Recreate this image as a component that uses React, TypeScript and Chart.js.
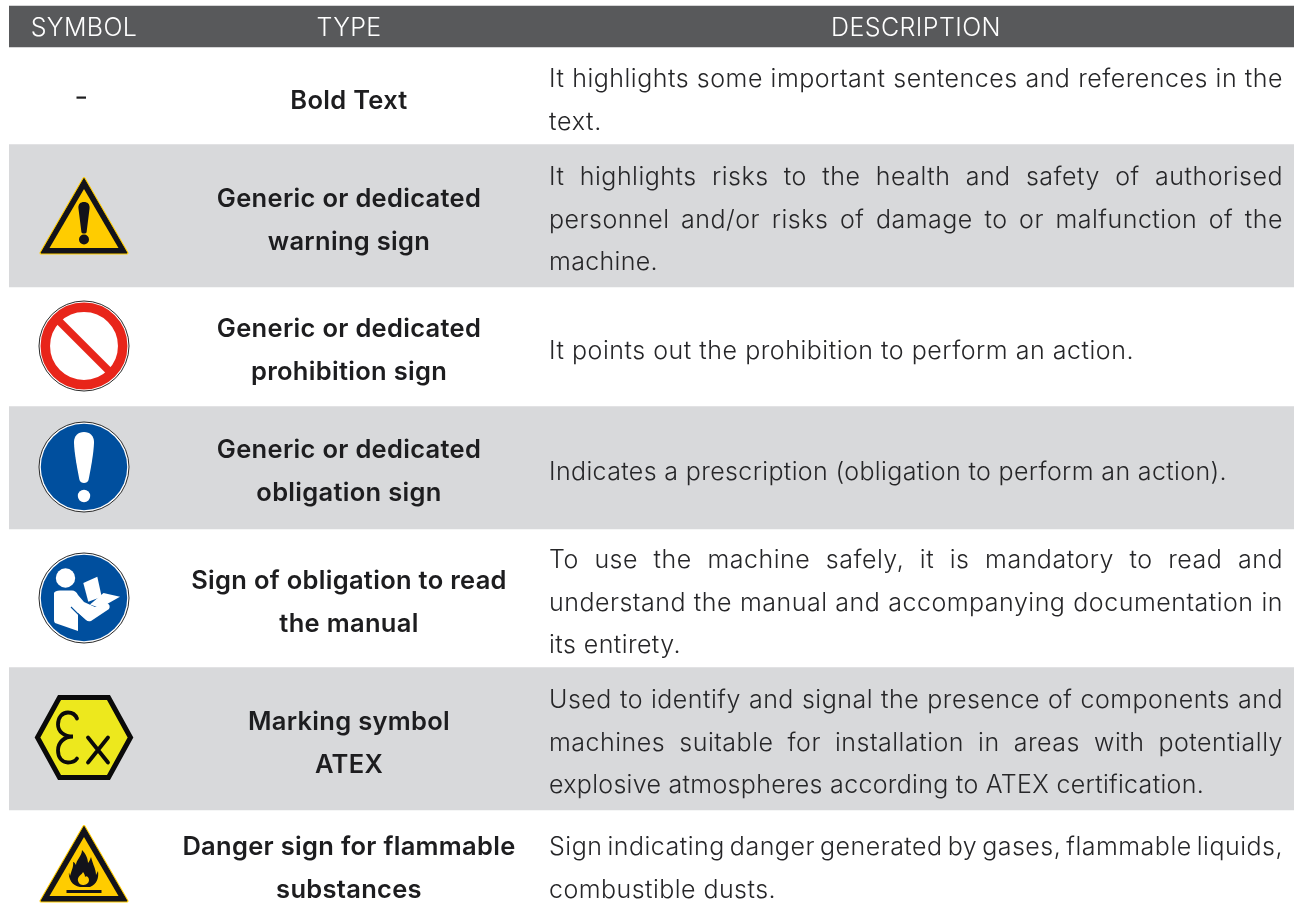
import React, { useEffect, useRef } from "react";
import { Chart, registerables } from "chart.js";

Chart.register(...registerables);

const headers = ["SYMBOL", "TYPE", "DESCRIPTION"];
const rowTypes = [
  ["Bold Text"],
  ["Generic or dedicated", "warning sign"],
  ["Generic or dedicated", "prohibition sign"],
  ["Generic or dedicated", "obligation sign"],
  ["Sign of obligation to read", "the manual"],
  ["Marking symbol", "ATEX"],
  ["Danger sign for flammable", "substances"],
];
const rowDescriptions = [
  ["It highlights some important sentences and references in the", "text."],
  ["It highlights risks to the health and safety of authorised", "personnel and/or risks of damage to or malfunction of the", "machine."],
  ["It points out the prohibition to perform an action."],
  ["Indicates a prescription (obligation to perform an action)."],
  ["To use the machine safely, it is mandatory to read and", "understand the manual and accompanying documentation in", "its entirety."],
  ["Used to identify and signal the presence of components and", "machines suitable for installation in areas with potentially", "explosive atmospheres according to ATEX certification."],
  ["Sign indicating danger generated by gases, flammable liquids,", "combustible dusts."],
];
const rowIcons = ["dash", "warning", "prohibition", "obligation", "manual", "atex", "flame"];
// Band heights, top to bottom: margin, header, then the seven rows.
const bandLabels = ["margin", "header", "row1", "row2", "row3", "row4", "row5", "row6", "row7"];
const bandHeights = [6, 41, 97, 143, 119, 123, 138, 143, 93];
const bandColors = ["rgba(0,0,0,0)", "#58595b", "#ffffff", "#d8d9db", "#ffffff", "#d8d9db", "#ffffff", "#d8d9db", "#ffffff"];

const typeBaselines = [108.5, 207, 337, 458, 589, 730, 855];
const descBaselines = [87, 185, 359, 480, 568, 708, 855];
const lastLineEnds = [602, 658, 1134, 1227, 681, 1204, 776];
const iconAnchors = [97, 255, 346, 467, 598, 737.5, 903];
const TYPE_STEP = 42.5;
const DESC_STEP = 42.7;
const COL_SYMBOL = 84;
const COL_TYPE = 349;
const COL_DESC_LEFT = 549;
const COL_DESC_RIGHT = 1283;
const COL_HEADER_DESC = 916;

const FONT_LIGHT = '300 25px Inter, "Noto Sans", sans-serif';
const FONT_MEDIUM = '600 25.5px Inter, "Noto Sans", sans-serif';
const INK = "#1d1d1f";
const INK_LIGHT = "#262628";

function circleIcon(ctx: CanvasRenderingContext2D, r = 45) {
  ctx.beginPath();
  ctx.arc(0, 0, r, 0, Math.PI * 2);
  ctx.fillStyle = "#ffffff";
  ctx.fill();
  ctx.strokeStyle = "#2a2a2a";
  ctx.lineWidth = 1;
  ctx.stroke();
}

function triangle(ctx: CanvasRenderingContext2D, r: number, base: number, apex: number) {
  ctx.beginPath();
  ctx.moveTo(0, apex);
  ctx.lineTo(r, base);
  ctx.lineTo(-r, base);
  ctx.closePath();
}

function warningFrame(ctx: CanvasRenderingContext2D) {
  ctx.lineJoin = "round";
  triangle(ctx, 43, -2, -76.5);
  ctx.fillStyle = "#ffcc00";
  ctx.strokeStyle = "#ffcc00";
  ctx.lineWidth = 3;
  ctx.fill();
  ctx.stroke();
  triangle(ctx, 43, -2, -76.5);
  ctx.fillStyle = "#12121a";
  ctx.strokeStyle = "#12121a";
  ctx.lineWidth = 1;
  ctx.fill();
  ctx.stroke();
  triangle(ctx, 34.5, -7, -66);
  ctx.fillStyle = "#ffcc00";
  ctx.fill();
}

function drawIcon(ctx: CanvasRenderingContext2D, kind: string, x: number, y: number) {
  ctx.save();
  ctx.translate(x, y);
  if (kind === "dash") {
    ctx.fillStyle = INK;
    ctx.fillRect(-7.5, -0.5, 9.5, 2.2);
  } else if (kind === "warning") {
    warningFrame(ctx);
    ctx.fillStyle = "#12121a";
    ctx.fill(new Path2D("M0 -53 C3.5 -53 5.8 -51 5.6 -47 L2.6 -23 C2.4 -21 -2.4 -21 -2.6 -23 L-5.6 -47 C-5.8 -51 -3.5 -53 0 -53 Z"));
    ctx.beginPath();
    ctx.arc(0, -15.5, 5, 0, Math.PI * 2);
    ctx.fill();
  } else if (kind === "prohibition") {
    circleIcon(ctx);
    ctx.strokeStyle = "#e8251a";
    ctx.lineWidth = 9.5;
    ctx.beginPath();
    ctx.arc(0, 0, 38.7, 0, Math.PI * 2);
    ctx.stroke();
    ctx.lineWidth = 7.5;
    ctx.beginPath();
    ctx.moveTo(-27, -27);
    ctx.lineTo(27, 27);
    ctx.stroke();
  } else if (kind === "obligation" || kind === "manual") {
    circleIcon(ctx);
    ctx.fillStyle = "#004f9e";
    ctx.beginPath();
    ctx.arc(0, 0, 43.2, 0, Math.PI * 2);
    ctx.fill();
    ctx.fillStyle = "#ffffff";
    if (kind === "obligation") {
      ctx.fill(new Path2D("M0 -35 C6 -35 10 -31 10 -25 C10 -15 6 6 4.5 13 C3.5 17 -3.5 17 -4.5 13 C-6 6 -10 -15 -10 -25 C-10 -31 -6 -35 0 -35 Z"));
      ctx.beginPath();
      ctx.arc(0, 29, 6.2, 0, Math.PI * 2);
      ctx.fill();
    } else {
      ctx.beginPath();
      ctx.arc(-18.5, -20, 9.7, 0, Math.PI * 2);
      ctx.fill();
      ctx.fill(new Path2D("M-30 -5 Q-29 -7.5 -24 -7.5 L-12 -7.5 Q-8 -7.5 -6 -3 L0 4 L11 9 L23 5 Q27 7 25 11 L7 23 Q4 24 2 22 L-6 15 L-6 33 L-29 25 Q-30 24 -30 22 Z"));
      ctx.fill(new Path2D("M-0.7 -15 L13.3 -21.3 L17.7 -1.3 L4.3 3.7 Z"));
      ctx.fill(new Path2D("M19.5 -5 L36 -1.3 L16 10 L6 6.5 Z"));
      ctx.strokeStyle = "#004f9e";
      ctx.lineWidth = 1.1;
      ctx.stroke(new Path2D("M-13 9 L0 22"));
    }
  } else if (kind === "atex") {
    ctx.lineJoin = "miter";
    ctx.fillStyle = "#ede81d";
    ctx.strokeStyle = "#0a0a0a";
    ctx.lineWidth = 5;
    const hex = new Path2D("M-46.5 0 L-24.5 -40 L24.5 -40 L46.5 0 L24.5 40 L-24.5 40 Z");
    ctx.fill(hex);
    ctx.stroke(hex);
    ctx.lineWidth = 3.8;
    ctx.lineCap = "round";
    ctx.stroke(new Path2D("M-7 -19 C-9 -24 -13 -25 -16 -25 C-22 -25 -26 -20 -26 -13 C-26 -6 -20 -1 -11 -1 C-20 -1 -26 5 -26 13 C-26 20 -22 25 -16 25 C-12 25 -9 24 -7 21"));
    ctx.stroke(new Path2D("M4 0 L24 25 M24 0 L4 25"));
  } else if (kind === "flame") {
    warningFrame(ctx);
    ctx.fillStyle = "#12121a";
    ctx.fillRect(-17.5, -13, 35, 3);
    ctx.fill(new Path2D("M-2 -53 C-2 -47 -8 -43 -8 -38 C-9 -40 -10 -41 -11 -41 C-10 -37 -13 -31 -14 -27 C-15 -30 -15 -31 -15 -31 C-16 -25 -12 -17 -4 -16 L6 -16 C13 -19 15 -25 14 -32 L12 -28 C12 -34 9 -38 7 -46 C6 -43 5 -41 4 -40 C4 -45 1 -50 -2 -53 Z"));
    ctx.fillStyle = "#ffcc00";
    ctx.fill(new Path2D("M-1 -31 C-2 -28 -7 -27 -6 -22 C-5 -19 -3 -18 -1 -18 C1 -18 5 -19 5 -23 C5 -26 2 -28 1 -26 C1 -28 0 -30 -1 -31 Z"));
  }
  ctx.restore();
}

const tablePlugin = {
  id: "tableText",
  afterDatasetsDraw(chart: any) {
    const ctx: any = chart.ctx;
    const xs = chart.scales.xp;
    const ys = chart.scales.y;
    const X = (v: number) => xs.getPixelForValue(v);
    const Y = (v: number) => ys.getPixelForValue(v);
    ctx.save();
    ctx.textBaseline = "alphabetic";
    ctx.fontKerning = "normal";

    ctx.font = FONT_LIGHT;
    ctx.letterSpacing = "0.4px";
    ctx.fillStyle = "#ffffff";
    ctx.textAlign = "center";
    [COL_SYMBOL, COL_TYPE, COL_HEADER_DESC].forEach((col, i) => ctx.fillText(headers[i], X(col), Y(35.5)));

    rowTypes.forEach((lines, r) => {
      drawIcon(ctx, rowIcons[r], X(COL_SYMBOL), Y(iconAnchors[r]));

      ctx.font = FONT_MEDIUM;
      ctx.letterSpacing = "0.3px";
      ctx.fillStyle = INK;
      ctx.textAlign = "center";
      lines.forEach((t, i) => ctx.fillText(t, X(COL_TYPE), Y(typeBaselines[r] + i * TYPE_STEP)));

      ctx.font = FONT_LIGHT;
      ctx.fillStyle = INK_LIGHT;
      ctx.textAlign = "left";
      const desc = rowDescriptions[r];
      desc.forEach((t, i) => {
        const last = i === desc.length - 1;
        ctx.wordSpacing = "0px";
        ctx.letterSpacing = "0px";
        const natural = ctx.measureText(t).width;
        if (last) {
          // free line: track it so that it ends where the reference line ends
          const track = (X(lastLineEnds[r]) - X(COL_DESC_LEFT) - natural) / t.length;
          ctx.letterSpacing = `${track}px`;
        } else {
          ctx.letterSpacing = "0.5px";
          const tracked = ctx.measureText(t).width;
          const gaps = t.split(" ").length - 1;
          const extra = (X(COL_DESC_RIGHT) - X(COL_DESC_LEFT) - tracked) / gaps;
          ctx.wordSpacing = `${extra}px`;
        }
        ctx.fillText(t, X(COL_DESC_LEFT), Y(descBaselines[r] + i * DESC_STEP));
        ctx.wordSpacing = "0px";
      });
    });
    ctx.restore();
  },
};

export default function App() {
  const ref = useRef<HTMLCanvasElement>(null);
  useEffect(() => {
    document.body.style.margin = "0";
    const chart = new Chart(ref.current!, {
      type: "bar",
      data: {
        labels: ["table"],
        datasets: bandLabels.map((label, i) => ({
          label,
          data: [bandHeights[i]],
          backgroundColor: bandColors[i],
          borderWidth: 0,
          categoryPercentage: 1,
          barPercentage: 1,
          stack: "bands",
        })),
      },
      options: {
        animation: false,
        responsive: false,
        maintainAspectRatio: false,
        layout: { padding: { left: 9, right: 2, top: 0, bottom: 0 } },
        plugins: { legend: { display: false }, tooltip: { enabled: false }, title: { display: false } },
        scales: {
          x: { display: false, stacked: true },
          xp: { type: "linear", display: false, offset: false, min: 9, max: 1294, position: "bottom" },
          y: { type: "linear", display: false, stacked: true, reverse: true, min: 0, max: 903 },
        },
      },
      plugins: [tablePlugin],
    } as any);
    return () => chart.destroy();
  }, []);
  return (
    <div style={{ width: 1296, height: 903, overflow: "hidden" }}>
      <canvas ref={ref} width={1296} height={903} style={{ display: "block" }} />
    </div>
  );
}
